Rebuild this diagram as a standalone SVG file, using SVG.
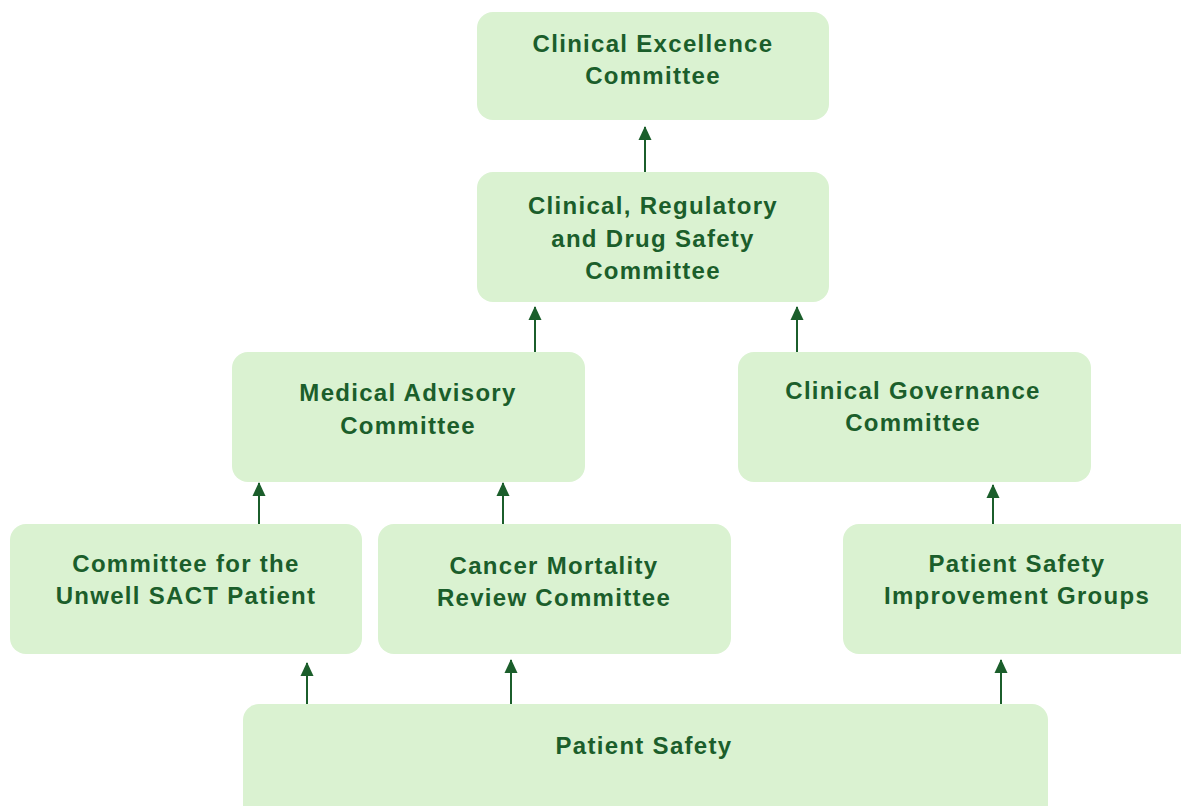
<svg xmlns="http://www.w3.org/2000/svg" width="1181" height="806" viewBox="0 0 1181 806">
  <style>
    .box { fill: #daf2d1; }
    .label { font-family: "Liberation Sans", Arial, sans-serif; font-weight: bold; font-size: 24px; letter-spacing: 1.3px; fill: #1b5e2b; text-anchor: middle; }
    .link { stroke: #1b5e2b; stroke-width: 2; fill: none; marker-end: url(#head); }
  </style>
  <defs>
    <marker id="head" viewBox="0 0 14 14" refX="13" refY="7" markerWidth="14" markerHeight="14" markerUnits="userSpaceOnUse" orient="auto">
      <path d="M0,0.5 L14,7 L0,13.5 Z" fill="#1b5e2b"/>
    </marker>
  </defs>
  <rect width="1181" height="806" fill="#ffffff"/>

  <g id="connectors">
    <line class="link" x1="645" y1="172" x2="645" y2="127"/>
    <line class="link" x1="535" y1="352" x2="535" y2="307"/>
    <line class="link" x1="797" y1="352" x2="797" y2="307"/>
    <line class="link" x1="259" y1="524" x2="259" y2="483"/>
    <line class="link" x1="503" y1="524" x2="503" y2="483"/>
    <line class="link" x1="993" y1="524" x2="993" y2="485"/>
    <line class="link" x1="307" y1="704" x2="307" y2="663"/>
    <line class="link" x1="511" y1="704" x2="511" y2="660"/>
    <line class="link" x1="1001" y1="704" x2="1001" y2="660"/>
  </g>

  <g id="clinical-excellence">
    <rect class="box" x="477" y="12" width="352" height="108" rx="16"/>
    <text class="label" x="653" y="52">Clinical Excellence</text>
    <text class="label" x="653" y="84">Committee</text>
  </g>

  <g id="clinical-regulatory">
    <rect class="box" x="477" y="172" width="352" height="130" rx="16"/>
    <text class="label" x="653" y="214">Clinical, Regulatory</text>
    <text class="label" x="653" y="247">and Drug Safety</text>
    <text class="label" x="653" y="279">Committee</text>
  </g>

  <g id="medical-advisory">
    <rect class="box" x="232" y="352" width="353" height="130" rx="16"/>
    <text class="label" x="408" y="401">Medical Advisory</text>
    <text class="label" x="408" y="434">Committee</text>
  </g>

  <g id="clinical-governance">
    <rect class="box" x="738" y="352" width="353" height="130" rx="16"/>
    <text class="label" x="913" y="399">Clinical Governance</text>
    <text class="label" x="913" y="431">Committee</text>
  </g>

  <g id="unwell-sact">
    <rect class="box" x="10" y="524" width="352" height="130" rx="16"/>
    <text class="label" x="186" y="572">Committee for the</text>
    <text class="label" x="186" y="604">Unwell SACT Patient</text>
  </g>

  <g id="cancer-mortality">
    <rect class="box" x="378" y="524" width="353" height="130" rx="16"/>
    <text class="label" x="554" y="574">Cancer Mortality</text>
    <text class="label" x="554" y="606">Review Committee</text>
  </g>

  <g id="improvement-groups">
    <rect class="box" x="843" y="524" width="360" height="130" rx="16"/>
    <text class="label" x="1017" y="572">Patient Safety</text>
    <text class="label" x="1017" y="604">Improvement Groups</text>
  </g>

  <g id="patient-safety">
    <rect class="box" x="243" y="704" width="805" height="130" rx="16"/>
    <text class="label" x="644" y="754">Patient Safety</text>
  </g>
</svg>
